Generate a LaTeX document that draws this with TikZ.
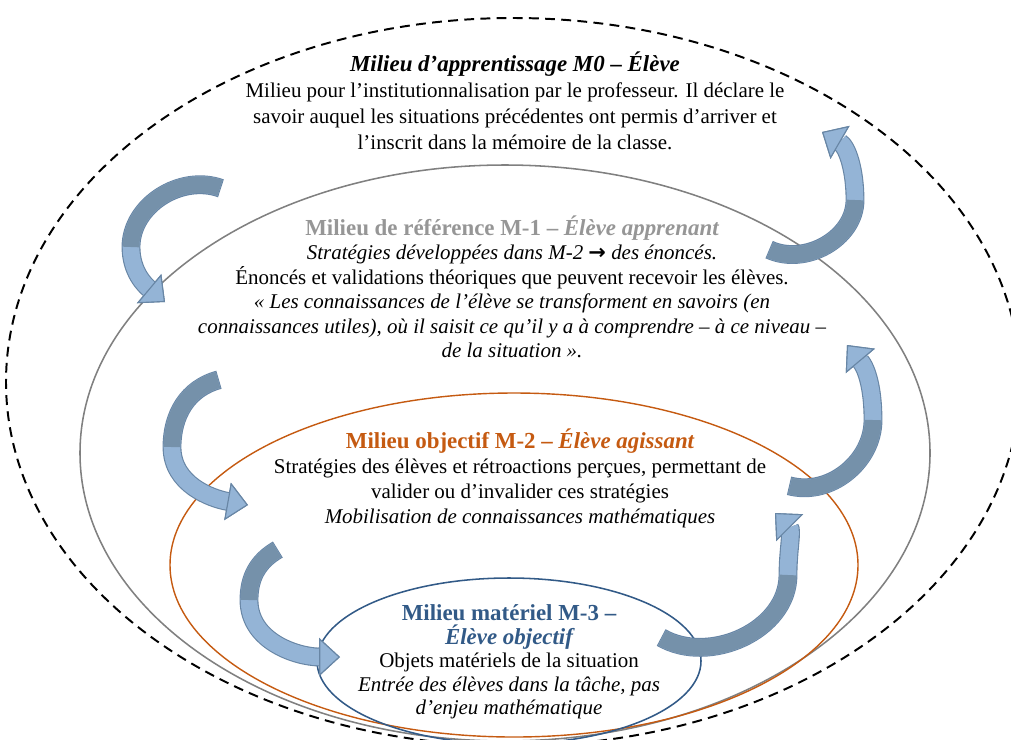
\documentclass[tikz,border=0pt]{standalone}
\usepackage{fontspec}
\setmainfont{Liberation Serif}
\newfontfamily\arrowfont{DejaVu Sans}
\usetikzlibrary{arrows.meta}

\definecolor{refgray}{RGB}{128,128,128}
\definecolor{titlegray}{RGB}{150,150,150}
\definecolor{objorange}{RGB}{197,90,17}
\definecolor{matblue}{RGB}{50,90,135}
\definecolor{arrowdark}{RGB}{117,145,170}
\definecolor{arrowlight}{RGB}{148,180,214}
\definecolor{arrowline}{RGB}{104,134,165}

\newcommand{\ttlsize}{\fontsize{16.3}{18}\selectfont}

\begin{document}
\begin{tikzpicture}[x=0.025cm,y=0.025cm,
  txt/.style={align=center,inner sep=0pt,font=\fontsize{14.9}{17.4}\selectfont},
  bandedge/.style={line width=13.4pt,draw=arrowline,shorten <=-0.7pt,
    -{Triangle[width=0.95cm,length=0.52cm,line width=0.8pt,color=arrowline,fill=arrowline]}},
  bandlight/.style={line width=11.8pt,draw=arrowlight,
    -{Triangle[width=0.95cm,length=0.52cm,line width=0.8pt,color=arrowline,fill=arrowlight]}},
  banddark/.style={line width=11.8pt,draw=arrowdark}]
  \useasboundingbox (0,0) rectangle (1011,-739);
  \clip (0,0) rectangle (1011,-739);

  % the four milieux
  \draw[black,line width=1.4pt,dash pattern=on 7pt off 4.5pt] (513,-382) ellipse [x radius=507,y radius=364];
  \draw[refgray,line width=1.1pt] (505,-453) ellipse [x radius=425,y radius=288];
  \draw[objorange,line width=1pt] (514,-565) ellipse [x radius=344,y radius=172];
  \draw[matblue,line width=1.1pt] (509,-661) ellipse [x radius=192,y radius=83];

  % curved arrows: tail, bend, head
  \coordinate (t1) at (220,-188); \coordinate (b1) at (131,-247); \coordinate (h1) at (165,-302);
  \coordinate (t2) at (770,-250); \coordinate (b2) at (855,-200); \coordinate (h2) at (822,-132);
  \coordinate (t3) at (218,-380); \coordinate (b3) at (172,-447); \coordinate (h3) at (248,-505);
  \coordinate (t4) at (790,-486); \coordinate (b4) at (873,-420); \coordinate (h4) at (847,-345);
  \coordinate (t5) at (277,-550); \coordinate (b5) at (249,-600); \coordinate (h5) at (340,-657);
  \coordinate (t6) at (662,-638); \coordinate (b6) at (788,-575); \coordinate (h6) at (775,-513);
  \foreach \n/\oa/\ia/\ob/\ib in {1/160/90/270/140, 2/-25/270/90/-30, 3/195/90/270/170,
                                  4/-15/270/90/-50, 5/210/90/270/180, 6/-30/270/90/-45} {
    \draw[bandedge] (t\n) to[out=\oa,in=\ia] (b\n) to[out=\ob,in=\ib] (h\n);
    \draw[bandlight] (t\n) to[out=\oa,in=\ia] (b\n) to[out=\ob,in=\ib] (h\n);
    \draw[banddark] (t\n) to[out=\oa,in=\ia] (b\n);
  }

  % texts
  \node[txt,font=\fontsize{14.9}{18.5}\selectfont] at (515,-101) (m0) {{\ttlsize\bfseries\itshape Milieu d’apprentissage M0 – Élève}\\
    Milieu pour l’institutionnalisation par le professeur. Il déclare le\\
    savoir auquel les situations précédentes ont permis d’arriver et\\
    l’inscrit dans la mémoire de la classe.};
  \node[txt] at (512,-287) (m1) {{\ttlsize\bfseries\color{titlegray}Milieu de référence M-1 – \itshape Élève apprenant}\\
    {\itshape Stratégies développées dans M-2 {\arrowfont\bfseries →} des énoncés.}\\
    Énoncés et validations théoriques que peuvent recevoir les élèves.\\
    {\itshape « Les connaissances de l’élève se transforment en savoirs (en}\\
    {\itshape connaissances utiles), où il saisit ce qu’il y a à comprendre – à ce niveau –}\\
    {\itshape de la situation ».}};
  \node[txt,font=\fontsize{14.9}{17.8}\selectfont] at (520,-478) (m2) {{\ttlsize\bfseries\color{objorange}Milieu objectif M-2 – \itshape Élève agissant}\\
    Stratégies des élèves et rétroactions perçues, permettant de\\
    valider ou d’invalider ces stratégies\\
    {\itshape Mobilisation de connaissances mathématiques}};
  \node[txt,font=\fontsize{14.9}{16.7}\selectfont] at (509,-662) (m3) {{\ttlsize\bfseries\color{matblue}Milieu matériel M-3 –}\\
    {\ttlsize\bfseries\itshape\color{matblue}Élève objectif}\\
    Objets matériels de la situation\\
    {\itshape Entrée des élèves dans la tâche, pas}\\
    {\itshape d’enjeu mathématique}};
\end{tikzpicture}
\end{document}
